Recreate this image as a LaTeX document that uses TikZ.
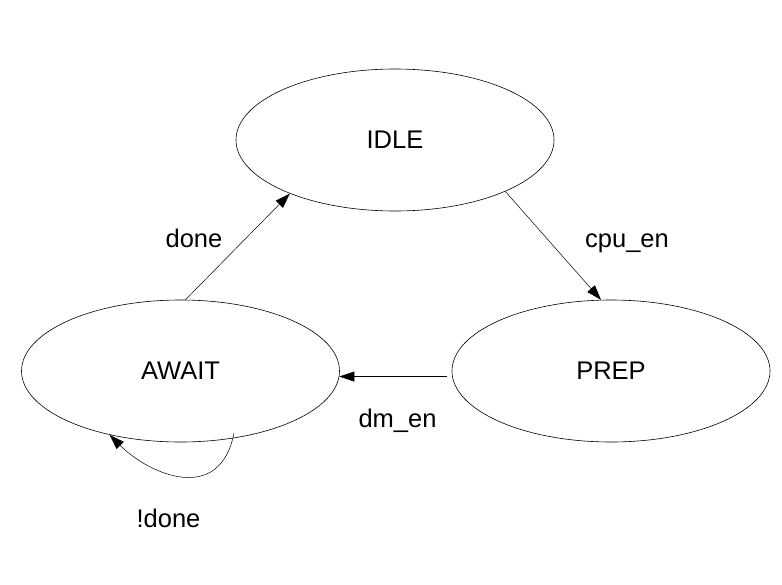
\documentclass[tikz,border=0pt]{standalone}
\usepackage{fontspec}
\setmainfont{Liberation Sans}
\usetikzlibrary{shapes.geometric,arrows.meta,calc}
\tikzset{
  state/.style={draw, ellipse, line width=0.6pt, minimum width=318pt, minimum height=142pt, inner sep=0pt},
  trans/.style={line width=0.5pt, -{Triangle[length=15pt,width=10pt]}},
  lbl/.style={anchor=base, inner sep=0pt}
}
\begin{document}
\begin{tikzpicture}[x=1pt,y=-1pt,font=\fontsize{25.5}{30}\selectfont]
\useasboundingbox[fill=white] (0,0) rectangle (782,584);
\node[state] (idle) at (395,140) {IDLE};
\node[state] (await) at (180.5,371) {AWAIT};
\node[state] (prep) at (611,371) {PREP};
\draw[trans] (await.86) -- (idle.207);
\draw[trans] (idle.335.5) -- (prep.98.6);
\draw[trans, shorten <=5.5pt] (prep.182) -- (await.-2.2);
\coordinate (loopstart) at ($(await.center)+(53.5,62)$);
\draw[trans] (loopstart) .. controls +(-14,72) and +(40,40) .. (await.-138.2);
\node[lbl] (ldone) at (194,247) {done};
\node[lbl] (lcpu) at (627,247) {cpu\_en};
\node[lbl] (ldm) at (397.5,427) {dm\_en};
\node[lbl] (lndone) at (168.5,527) {!done};
\end{tikzpicture}
\end{document}
